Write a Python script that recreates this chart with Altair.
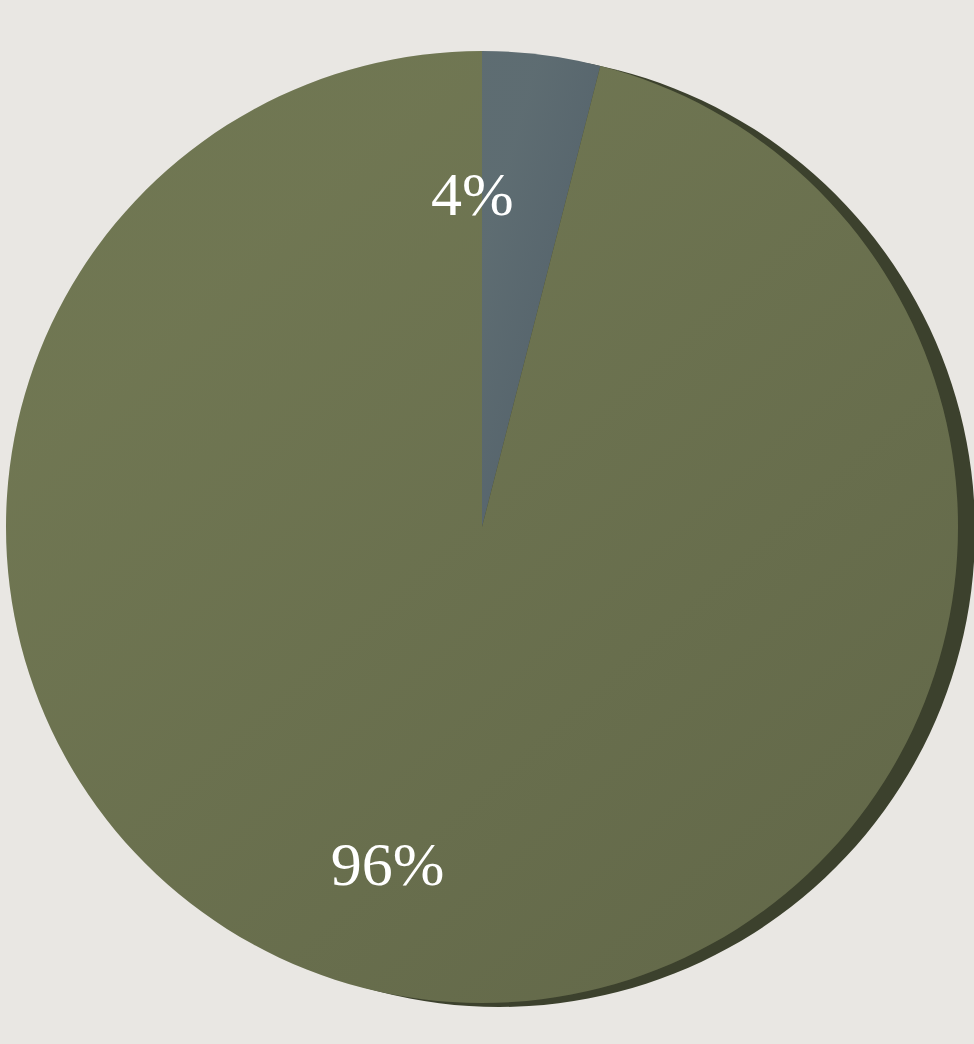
import altair as alt
import pandas as pd

labels = ["4%", "96%"]
values = [4, 96]
slice_colors = ["#566572", "#6a704f"]

df = pd.DataFrame({"label": labels, "value": values, "order": [0, 1]})

cx, cy, r = 482, 527, 476

base = alt.Chart(df).encode(
    theta=alt.Theta("value:Q", stack=True, scale=alt.Scale(range=[0, 6.283185307])),
    order=alt.Order("order:Q"),
)

rim = base.mark_arc(radius=r, color="#3c412d").encode(
    x=alt.value(cx + 17), y=alt.value(cy + 4)
)

face = base.mark_arc(radius=r).encode(
    x=alt.value(cx), y=alt.value(cy),
    color=alt.Color("label:N", scale=alt.Scale(domain=labels, range=slice_colors), legend=None),
)

sheen = base.mark_arc(
    radius=r,
    color=alt.Gradient(
        gradient="linear",
        stops=[
            alt.GradientStop(color="#a4b070", offset=0),
            alt.GradientStop(color="#a4b070", offset=0.2),
            alt.GradientStop(color="#1a1c10", offset=1),
        ],
        x1=0.05, y1=0.05, x2=0.9, y2=1,
    ),
    opacity=0.1,
).encode(x=alt.value(cx), y=alt.value(cy))

text = base.mark_text(
    radius=338, font="Liberation Serif", fontSize=62, color="#ffffff", dx=-52, dy=4,
).encode(x=alt.value(cx), y=alt.value(cy), text="label:N")

chart = (
    alt.layer(rim, face, sheen, text)
    .properties(width=974, height=1044, background="#e9e7e3", padding=0, autosize="none")
    .configure_view(stroke=None)
)

chart.save("out.html", embed_options={"renderer": "svg", "actions": False})
